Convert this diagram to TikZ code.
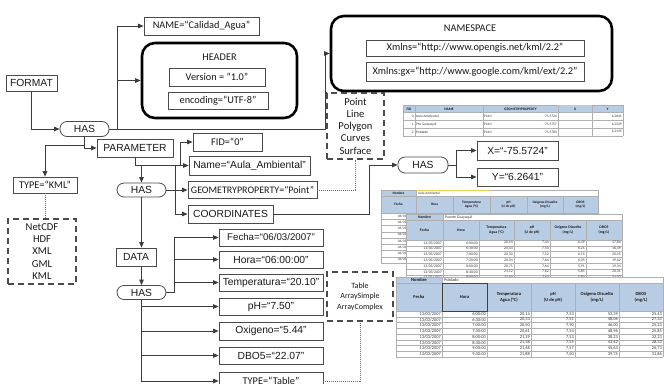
\documentclass[tikz,border=0pt]{standalone}
\usepackage{fontspec}
\setmainfont{Carlito}
\newfontfamily\arialfam{Liberation Sans}
\usetikzlibrary{arrows.meta}

\definecolor{ink}{RGB}{25,25,25}
\definecolor{wire}{RGB}{60,60,60}
\definecolor{frame}{RGB}{75,75,75}
\definecolor{dotgray}{RGB}{110,110,110}
\definecolor{hdrblue}{RGB}{184,204,228}
\definecolor{gridgray}{RGB}{175,175,175}
\definecolor{celltext}{RGB}{55,55,55}
\definecolor{selyellow}{RGB}{235,205,90}

\newcommand\fsA{\arialfam\fontsize{10.3}{12}\selectfont}
\newcommand\fsF{\arialfam\fontsize{9.7}{12}\selectfont}
\newcommand\fsC{\fontsize{10.3}{12}\selectfont}
\newcommand\fsG{\fontsize{10}{12}\selectfont}
\newcommand\fsL{\fontsize{10.6}{12.25}\selectfont}
\newcommand\fsT{\fontsize{8}{10.5}\selectfont}

\begin{document}
\begin{tikzpicture}[x=1pt,y=-1pt,
  sz/.style 2 args={minimum width=#1pt,minimum height=#2pt},
  box/.style={draw=frame,line width=0.8pt,fill=white,inner sep=0pt,text=ink},
  abox/.style={box,font=\fsA},
  cbox/.style={box,font=\fsC},
  hasbox/.style={box,rounded corners=7pt,font=\fsA},
  bigframe/.style={draw=black,line width=2.6pt,rounded corners=13pt,inner sep=0pt},
  title/.style={font=\fsC,text=ink,inner sep=0pt},
  dashbox/.style={draw=frame,line width=1.3pt,dash pattern=on 6pt off 4pt,inner sep=0pt,align=center,text=ink},
  link/.style={draw=wire,line width=0.8pt},
  arr/.style={link,-{Triangle[length=5.5pt,width=4.5pt]}},
  dotlink/.style={draw=dotgray,line width=0.8pt,dash pattern=on 1pt off 1pt},
  gridline/.style={draw=gridgray,line width=0.35pt},
  cell/.style={inner sep=0pt,text=celltext,font=\fontsize{#1}{#1}\selectfont},
  hcell/.style 2 args={inner sep=0pt,text=ink,align=center,font=\fontsize{#1}{#2}\selectfont\bfseries},
]
\fill[white] (0,0) rectangle (664,383);
\useasboundingbox (0,0) rectangle (664,383);

% ---------- attribute table of the points ----------
\fill[white] (403,105) rectangle (623,136);
\fill[hdrblue] (403,105) rectangle (623,112.5);
\foreach \yy in {105,112.5,120.3,128.1,136} \draw[gridline] (403,\yy) -- (623,\yy);
\foreach \xx in {403,415,483,558,592,623} \draw[gridline] (\xx,105) -- (\xx,136);
\draw[selyellow,line width=0.8pt] (558,105) -- (592,105);
\foreach \xx/\lab in {409/{FID},449/{NAME},520.5/{GEOMETRYPROPERTY},575/{X},607.5/{Y}}
  \node[hcell={3.6}{4.3}] at (\xx,108.9) {\lab};
\foreach \i/\va/\vb/\vc/\vd in {0/{0}/{Aula Ambiental}/{-75,5724}/{6,2641},
                                1/{1}/{Pte Guayaquil}/{-75,5757}/{6,2339},
                                2/{2}/{Poblado}/{-75,5780}/{6,2135}}{
  \node[cell=3.6,anchor=east] at (414,116.4+7.8*\i) {\va};
  \node[cell=3.6,anchor=west] at (416,116.4+7.8*\i) {\vb};
  \node[cell=3.6,anchor=west] at (484,116.4+7.8*\i) {Point};
  \node[cell=3.6,anchor=east] at (557,116.4+7.8*\i) {\vc};
  \node[cell=3.6,anchor=east] at (622,116.4+7.8*\i) {\vd};
}

% ---------- sheet "Aula Ambiental" (back) ----------
\fill[white] (381,190) rectangle (598,263);
\fill[hdrblue] (381,190) rectangle (416,196);
\fill[hdrblue] (381,196) rectangle (598,213);
\draw[gridline] (381,190) rectangle (416,196) (416,190) rectangle (598,196);
\draw[selyellow,line width=0.6pt] (416,190) -- (490,190);
\foreach \i in {0,...,8} \draw[gridline] (381,213+6.25*\i) -- (598,213+6.25*\i);
\draw[gridline] (381,196) -- (598,196);
\foreach \xx in {381,416,453,490,527,563,598} \draw[gridline] (\xx,196) -- (\xx,263);
\node[hcell={3.5}{4.4}] at (398.5,193) {Nombre};
\node[cell=3.5,anchor=west] at (418,193) {Aula Ambiental};
\foreach \xx/\lab in {398.5/{Fecha},434.5/{Hora},471.5/{Temperatura\\Agua (°C)},508.5/{pH\\(U de pH)},545/{Oxigeno Disuelto\\(mg/L)},580.5/{DBO5\\(mg/L)}}
  \node[hcell={3.5}{4.4}] at (\xx,204.5) {\lab};
\foreach \i in {0,...,7} \node[cell=3.5,anchor=east] at (415,216.1+6.25*\i) {06/03/2007};

% ---------- sheet "Puente Guayaquil" (middle) ----------
\fill[white] (406,214) rectangle (622,280.6);
\fill[hdrblue] (406,214) rectangle (443,220);
\fill[hdrblue] (406,220) rectangle (622,240);
\draw[gridline] (406,214) rectangle (443,220) (443,214) rectangle (622,220);
\draw[gridline] (406,220) -- (622,220);
\foreach \i in {0,...,7} \draw[gridline] (406,240+5.8*\i) -- (622,240+5.8*\i);
\foreach \xx in {406,443,479,514,550,586,622} \draw[gridline] (\xx,220) -- (\xx,280.6);
\node[hcell={3.8}{4.8}] at (424.5,217) {Nombre};
\node[cell=3.8,anchor=west] at (445,217) {Puente Guayaquil};
\foreach \xx/\lab in {424.5/{Fecha},461/{Hora},496.5/{Temperatura\\Agua (°C)},532/{pH\\(U de pH)},568/{Oxigeno Disuelto\\(mg/L)},604/{DBO5\\(mg/L)}}
  \node[hcell={3.8}{4.8}] at (\xx,230) {\lab};
\foreach \i/\va/\vb/\vc/\vd/\ve in {0/{6:00:00}/{20,54}/{7,44}/{6,49}/{17,84},
                                     1/{6:30:00}/{20,43}/{7,50}/{6,21}/{16,49},
                                     2/{7:00:00}/{20,30}/{7,52}/{6,15}/{20,05},
                                     3/{7:30:00}/{20,34}/{7,64}/{6,05}/{19,62},
                                     4/{8:00:00}/{20,75}/{7,64}/{5,91}/{19,34},
                                     5/{8:30:00}/{21,12}/{7,62}/{5,85}/{20,31},
                                     6/{9:00:00}/{21,40}/{7,60}/{5,80}/{21,02}}{
  \node[cell=3.8,anchor=east] at (442,242.9+5.8*\i) {13/03/2007};
  \node[cell=3.8,anchor=east] at (478,242.9+5.8*\i) {\va};
  \node[cell=3.8,anchor=east] at (513,242.9+5.8*\i) {\vb};
  \node[cell=3.8,anchor=east] at (549,242.9+5.8*\i) {\vc};
  \node[cell=3.8,anchor=east] at (585,242.9+5.8*\i) {\vd};
  \node[cell=3.8,anchor=east] at (621,242.9+5.8*\i) {\ve};
}

% ---------- sheet "Poblado" (front) ----------
\fill[white] (396,277) rectangle (663,357);
\fill[hdrblue] (396,277) rectangle (442,283);
\fill[hdrblue] (396,283) rectangle (663,311);
\draw[gridline] (396,277) rectangle (442,283) (442,277) rectangle (663,283);
\draw[gridline] (396,283) -- (663,283);
\foreach \i in {0,...,8} \draw[gridline] (396,311+5.75*\i) -- (663,311+5.75*\i);
\foreach \xx in {396,442,487,531,575,619,663} \draw[gridline] (\xx,283) -- (\xx,357);
\draw[black!75,line width=0.9pt] (442,283) rectangle (487,311);
\node[hcell={4.6}{5.8}] at (419,280) {Nombre};
\node[cell=4.4,anchor=west] at (444,280) {Poblado};
\foreach \xx/\lab in {419/{Fecha},464.5/{Hora},509/{Temperatura\\Agua (°C)},553/{pH\\(U de pH)},597/{Oxigeno Disuelto\\(mg/L)},641/{DBO5\\(mg/L)}}
  \node[hcell={4.6}{5.8}] at (\xx,297) {\lab};
\foreach \i/\va/\vb/\vc/\vd/\ve in {0/{6:00:00}/{20,14}/{7,53}/{53,39}/{25,43},
                                     1/{6:30:00}/{20,33}/{7,51}/{48,06}/{27,33},
                                     2/{7:00:00}/{20,50}/{7,90}/{46,00}/{25,23},
                                     3/{7:30:00}/{20,61}/{7,54}/{48,96}/{25,85},
                                     4/{8:00:00}/{21,29}/{7,53}/{38,23}/{32,23},
                                     5/{8:30:00}/{21,38}/{7,55}/{43,42}/{28,33},
                                     6/{9:00:00}/{21,48}/{7,57}/{45,63}/{26,73},
                                     7/{9:30:00}/{21,88}/{7,50}/{39,75}/{31,86}}{
  \node[cell=4.4,anchor=east] at (441,313.9+5.75*\i) {13/03/2007};
  \node[cell=4.4,anchor=east] at (486,313.9+5.75*\i) {\va};
  \node[cell=4.4,anchor=east] at (530,313.9+5.75*\i) {\vb};
  \node[cell=4.4,anchor=east] at (574,313.9+5.75*\i) {\vc};
  \node[cell=4.4,anchor=east] at (618,313.9+5.75*\i) {\vd};
  \node[cell=4.4,anchor=east] at (662,313.9+5.75*\i) {\ve};
}

% ---------- document header ----------
\node[abox,sz={51}{16}] (format) at (31.5,83) {FORMAT};
\node[cbox,sz={115}{18}] (name) at (201.5,26) {NAME=“Calidad\_Agua”};
\node[bigframe,sz={155}{75}] (header) at (219.5,80.5) {};
\node[title] (headertitle) at (219.5,57) {HEADER};
\node[cbox,sz={96}{18}] (ver) at (217,77) {Version = “1.0”};
\node[cbox,sz={100}{17}] (enc) at (218,100.5) {encoding=“UTF-8”};
\node[bigframe,sz={281}{75}] (ns) at (471.5,53.5) {};
\node[title] (nstitle) at (470,28) {NAMESPACE};
\node[cbox,sz={218}{16}] (xmlns) at (475,48) {Xmlns=“http://www.opengis.net/kml/2.2”};
\node[cbox,sz={218}{19}] (xmlnsgx) at (475,71.5) {Xmlns:gx=“http://www.google.com/kml/ext/2.2”};

% ---------- parameters ----------
\node[hasbox,sz={49}{15}] (has1) at (84.5,129) {HAS};
\node[abox,sz={76}{18}] (param) at (135,148) {PARAMETER};
\node[cbox,sz={64}{16}] (typek) at (45,185) {TYPE=“KML”};
\node[dashbox,sz={68}{65},font=\fsL] (fmtlist) at (42,251.5) {NetCDF\\HDF\\XML\\GML\\KML};
\node[cbox,sz={69}{18}] (fid) at (227.5,142) {FID=“0”};
\node[abox,sz={121}{19}] (nm) at (249.5,165.5) {Name=“Aula\_Ambiental”};
\node[box,font=\fsG,sz={129}{17}] (geom) at (252.5,190) {GEOMETRYPROPERTY=“Point”};
\node[abox,sz={85}{18}] (coords) at (230.5,214) {COORDINATES};
\node[hasbox,sz={49}{14}] (has2) at (141.5,190) {HAS};
\node[dashbox,sz={57}{66},font=\fsL] (geolist) at (355.5,126) {Point\\Line\\Polygon\\Curves\\Surface};
\node[hasbox,sz={50}{16}] (has3) at (423,165) {HAS};
\node[abox,sz={81}{19}] (xbox) at (517.5,150.5) {X=“-75.5724”};
\node[abox,sz={81}{18}] (ybox) at (517.5,177) {Y=“6.2641”};

% ---------- data ----------
\node[abox,sz={40}{18}] (data) at (136,257) {DATA};
\node[hasbox,sz={49}{14}] (has4) at (141.5,292.5) {HAS};
\node[box,font=\fsF,sz={104}{17}] (fecha) at (271,237.5) {Fecha=“06/03/2007”};
\node[abox,sz={104}{17}] (hora) at (271,259.5) {Hora=“06:00:00”};
\node[abox,sz={104}{17}] (temp) at (271,282.5) {Temperatura=“20.10”};
\node[abox,sz={104}{17}] (ph) at (271,306.5) {pH=“7.50”};
\node[abox,sz={104}{18}] (oxi) at (271,331) {Oxigeno=“5.44”};
\node[abox,sz={104}{17}] (dbo) at (271,355.5) {DBO5=“22.07”};
\node[cbox,sz={104}{18}] (typet) at (271,381) {TYPE=“Table”};
\node[dashbox,sz={66}{49},font=\fsT] (tablelist) at (360,296.5) {Table\\ArraySimple\\ArrayComplex};

% ---------- connectors ----------
\draw[arr] (format.south) |- (has1.west);
\draw[arr] (has1.east) -- (325,129) |- (ns.west);
\draw[arr] (117,129) |- (name.west);
\draw[arr] (117,80.5) -- (header.west);
\draw[arr] (has1.south) |- (param.west);
\draw[arr] (84.5,145) -| (typek.north);
\draw[dotlink] (typek.south) -- (typek.south |- fmtlist.north);
\draw[arr] (param.south) |- (180,165) |- (fid.west);
\draw[arr] (141.5,165) -- (has2.north);
\draw[arr] (has2.east) -- (geom.west);
\draw[arr] (175,190) |- (nm.west);
\draw[arr] (175,190) |- (coords.west);
\draw[dotlink] (geom.east) -| (geolist.south);
\draw[arr] (coords.east) -- (369,214) |- (has3.west);
\draw[link] (has3.east) -- (456,165);
\draw[arr] (456,165) |- (xbox.west);
\draw[arr] (456,165) |- (ybox.west);
\draw[arr] (has2.south) -- (has2.south |- data.north);
\draw[arr] (has2.south |- data.south) -- (has4.north);
\draw[link] (has4.east) -- (174,292.5);
\draw[arr] (174,292.5) |- (fecha.west);
\draw[arr] (174,292.5) |- (hora.west);
\draw[arr] (174,292.5) |- (temp.west);
\draw[arr] (has4.south) |- (ph.west);
\draw[arr] (has4.south) |- (oxi.west);
\draw[arr] (has4.south) |- (dbo.west);
\draw[arr] (has4.south) |- (typet.west);
\draw[dotlink] (typet.east) -| (tablelist.south);
\end{tikzpicture}
\end{document}
